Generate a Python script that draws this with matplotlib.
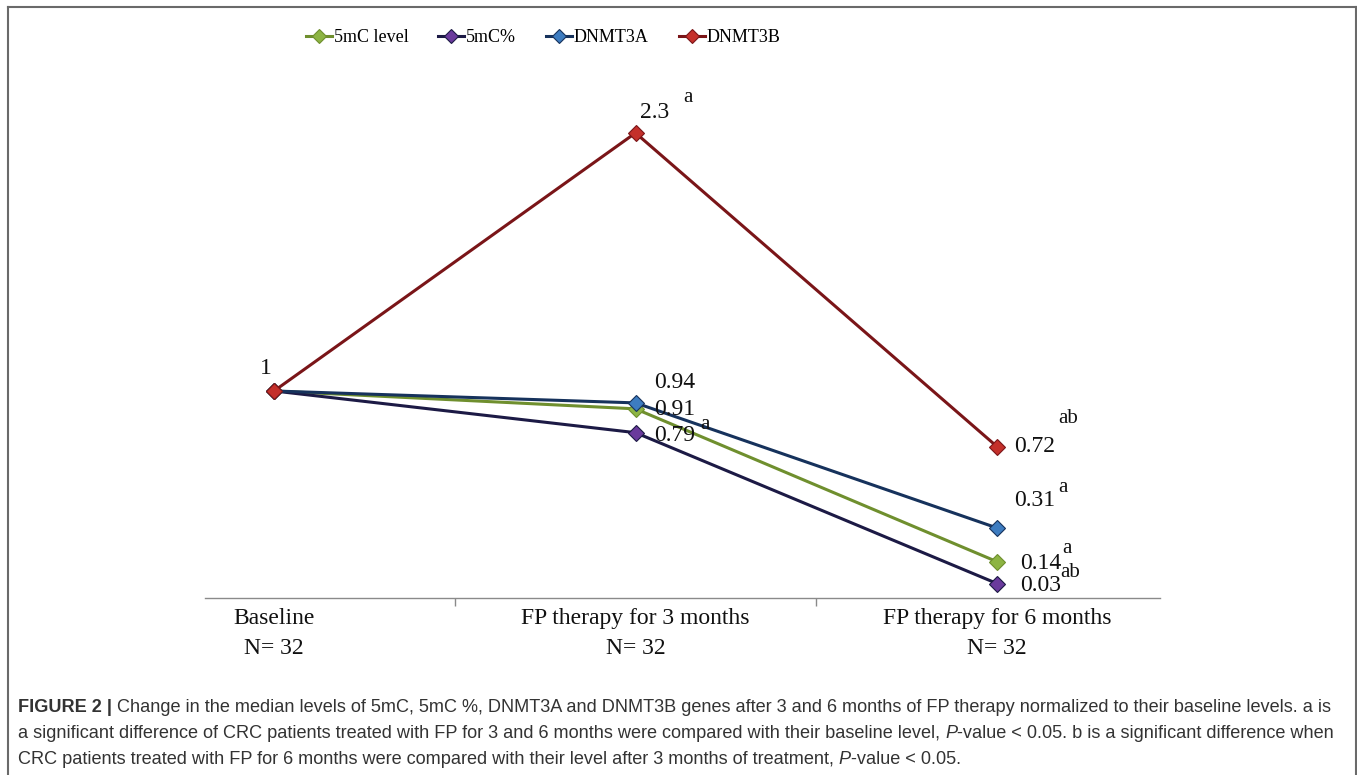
import matplotlib
matplotlib.use("Agg")
import matplotlib.pyplot as plt
from matplotlib.lines import Line2D

# ---- data ----
categories = ["Baseline\nN= 32", "FP therapy for 3 months\nN= 32", "FP therapy for 6 months\nN= 32"]
series_names = ["5mC level", "5mC%", "DNMT3A", "DNMT3B"]
mc_level = [1, 0.91, 0.14]
mc_pct = [1, 0.79, 0.03]
dnmt3a = [1, 0.94, 0.31]
dnmt3b = [1, 2.3, 0.72]

# value labels: (series index, point index, text, superscript)
value_labels = [
    (3, 0, "1", ""),
    (3, 1, "2.3", "a"),
    (2, 1, "0.94", ""),
    (0, 1, "0.91", "a"),
    (1, 1, "0.79", ""),
    (3, 2, "0.72", "ab"),
    (2, 2, "0.31", "a"),
    (0, 2, "0.14", "a"),
    (1, 2, "0.03", "ab"),
]

caption_lines = [
    [("FIGURE 2 |", "bold", "normal", False),
     ("Change in the median levels of 5mC, 5mC %, DNMT3A and DNMT3B genes after 3 and 6 months "
      "of FP therapy normalized to their baseline levels. a is", "normal", "normal", True)],
    [("a significant difference of CRC patients treated with FP for 3 and 6 months were compared "
      "with their baseline level,", "normal", "normal", False),
     ("P", "normal", "italic", True),
     ("-value < 0.05. b is a significant difference when", "normal", "normal", False)],
    [("CRC patients treated with FP for 6 months were compared with their level after 3 months "
      "of treatment,", "normal", "normal", False),
     ("P", "normal", "italic", True),
     ("-value < 0.05.", "normal", "normal", False)],
]

all_series = [mc_level, mc_pct, dnmt3a, dnmt3b]
line_colors = ["#6F8F2E", "#1C1A45", "#16325C", "#7A1518"]
marker_colors = ["#8DB443", "#6A3A9C", "#3D7CC0", "#C4302B"]

# label offsets in pixels from the marker (text, superscript)
label_offsets = [
    ((-8, 22), None),
    ((19, 20), (52, 35)),
    ((39, 20), None),
    ((39, -1), (69, -16)),
    ((39, -3), None),
    ((38, 0), (71, 28)),
    ((38, 27), (66, 40)),
    ((44, -2), (70, 13)),
    ((44, -2), (73, 11)),
]

W, H = 1357, 775
serif = "Liberation Serif"
sans = "Liberation Sans"

fig = plt.figure(figsize=(W / 100, H / 100), dpi=100)
ax = fig.add_axes([205 / W, (H - 598) / H, 955 / W, 498 / H])

x = list(range(len(categories)))
for vals, name, lc, mc in zip(all_series, series_names, line_colors, marker_colors):
    ax.plot(x, vals, color=lc, lw=2.2, marker="D", markersize=8.5,
            markerfacecolor=mc, markeredgecolor=lc, markeredgewidth=0.8,
            label=name, clip_on=False)

for (si, pi, txt, sup), (off, sup_off) in zip(value_labels, label_offsets):
    yv = all_series[si][pi]
    ax.annotate(txt, (pi, yv), xytext=off, textcoords="offset pixels",
                ha="center", va="center", fontsize=17, family=serif, color="#111111")
    if sup:
        ax.annotate(sup, (pi, yv), xytext=sup_off, textcoords="offset pixels",
                    ha="center", va="center", fontsize=15, family=serif, color="#111111")

ax.set_xlim(-0.191, 2.451)
ax.set_ylim(-0.043, 2.466)
for side in ["top", "right", "left"]:
    ax.spines[side].set_visible(False)
ax.spines["bottom"].set_color("#8a8a8a")
ax.spines["bottom"].set_linewidth(1.0)
ax.set_yticks([])

ax.set_xticks(x)
ax.set_xticklabels(categories, family=serif, fontsize=17, color="#111111",
                   linespacing=1.55)
ax.tick_params(axis="x", which="major", length=0, pad=7)
ax.set_xticks([0.5, 1.5], minor=True)
ax.tick_params(axis="x", which="minor", length=6, width=1.0, color="#8a8a8a",
               direction="out")

leg = fig.legend(loc="center", bbox_to_anchor=(543 / W, 1 - 38 / H), ncol=4,
                 frameon=False, prop={"family": serif, "size": 13},
                 handlelength=1.45, handletextpad=0.1, columnspacing=1.65,
                 markerscale=0.85)

# outer frame
frame_kw = dict(color="#6a6a6a", lw=1.5, transform=fig.transFigure)
fig.add_artist(Line2D([8 / W, 1356 / W], [1 - 7 / H, 1 - 7 / H], **frame_kw))
fig.add_artist(Line2D([8 / W, 8 / W], [1 - 7 / H, 0], **frame_kw))
fig.add_artist(Line2D([1356 / W, 1356 / W], [1 - 7 / H, 0], **frame_kw))

# caption with mixed bold / italic runs
renderer = fig.canvas.get_renderer()
cap_size = 13.1
cap_color = "#333333"
probe1 = fig.text(0, 0, "a a", fontsize=cap_size, family=sans)
probe2 = fig.text(0, 0, "aa", fontsize=cap_size, family=sans)
space_w = probe1.get_window_extent(renderer).width - probe2.get_window_extent(renderer).width
probe1.remove()
probe2.remove()

for i, parts in enumerate(caption_lines):
    xpos = 18
    ypos = 708 + 26 * i
    for txt, weight, style, space_before in parts:
        if space_before:
            xpos += space_w
        t = fig.text(xpos / W, 1 - ypos / H, txt, fontsize=cap_size, family=sans,
                     weight=weight, style=style, color=cap_color, va="center")
        xpos += t.get_window_extent(renderer).width

fig.savefig("out.png", dpi=100)
